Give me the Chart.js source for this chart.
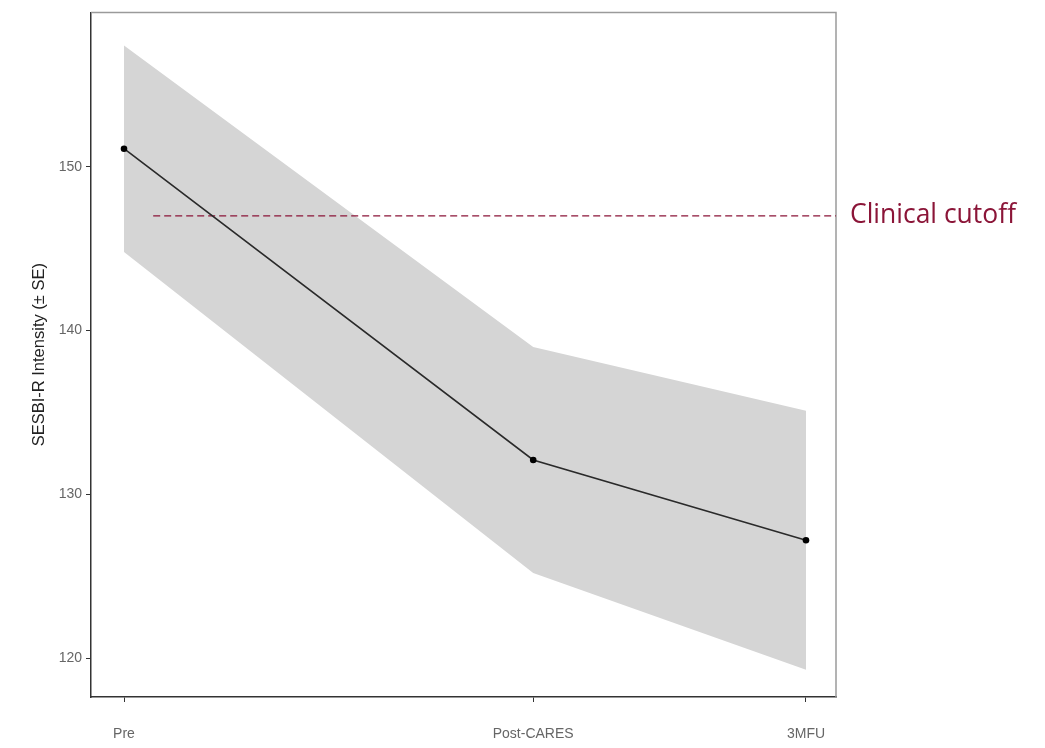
<!DOCTYPE html>
<html><head><meta charset="utf-8">
<script src="https://cdn.jsdelivr.net/npm/chart.js@4"></script>
<style>html,body{margin:0;padding:0;background:#fff}#wrap{width:1045px;height:748px}</style>
</head><body><div id="wrap"><canvas id="c" width="1045" height="748"></canvas></div>
<script>
const categories = ['Pre', 'Post-CARES', '3MFU'];
const timePos = [0, 1.5, 2.5];
const meanVals = [151.1, 132.1, 127.2];
const upperVals = [157.4, 139.0, 135.1];
const lowerVals = [144.8, 125.2, 119.3];
const yTicks = [120, 130, 140, 150];
const cutoffX = [0.107, 2.61];
const cutoffVal = 147;
const cutoffLabel = 'Clinical cutoff';
const yTitle = 'SESBI-R Intensity (± SE)';

const pts = (xs, ys) => xs.map((x, i) => ({x: x, y: ys[i]}));

const framePlugin = {
  id: 'frame',
  beforeDatasetsDraw(chart) {
    const a = chart.chartArea, ctx = chart.ctx;
    ctx.save();
    ctx.strokeStyle = '#9a9a9a';
    ctx.lineWidth = 1.5;
    ctx.beginPath();
    ctx.moveTo(a.left, a.top); ctx.lineTo(a.right, a.top); ctx.lineTo(a.right, a.bottom);
    ctx.stroke();
    ctx.restore();
  },
  afterDraw(chart) {
    const ctx = chart.ctx, a = chart.chartArea;
    const y = chart.scales.y.getPixelForValue(cutoffVal);
    ctx.save();
    let size = 22;
    ctx.font = size + 'px "Open Sans", "Noto Sans", sans-serif';
    const w = ctx.measureText(cutoffLabel).width;
    size = size * 166 / w;
    ctx.font = size + 'px "Open Sans", "Noto Sans", sans-serif';
    ctx.fillStyle = '#8b1538';
    ctx.textBaseline = 'middle';
    ctx.textAlign = 'left';
    ctx.fillText(cutoffLabel, a.right + 14, y);
    ctx.restore();
  }
};

new Chart(document.getElementById('c'), {
  type: 'line',
  data: {
    datasets: [
      {data: pts(timePos, upperVals), borderWidth: 0, pointRadius: 0, fill: '+1', backgroundColor: '#d5d5d5', tension: 0, order: 3},
      {data: pts(timePos, lowerVals), borderWidth: 0, pointRadius: 0, fill: false, tension: 0, order: 3},
      {data: pts(cutoffX, Array(cutoffX.length).fill(cutoffVal)), borderColor: '#8b1538', borderWidth: 1.3, borderDash: [7, 4], pointRadius: 0, fill: false, order: 2, clip: false},
      {data: pts(timePos, meanVals), borderColor: '#2a2a2a', borderWidth: 1.6, pointRadius: 3.3, pointBackgroundColor: '#000', pointBorderWidth: 0, fill: false, tension: 0, order: 1}
    ]
  },
  options: {
    responsive: false,
    animation: false,
    layout: {padding: {top: 10, right: 209, left: 30, bottom: 0}},
    plugins: {legend: {display: false}, tooltip: {enabled: false}},
    scales: {
      x: {
        type: 'linear', min: -0.121, max: 2.61,
        afterBuildTicks: s => { s.ticks = timePos.map(v => ({value: v})); },
        afterFit: s => { s.height = 51; },
        ticks: {callback: (v) => { const i = timePos.indexOf(v); return i >= 0 ? categories[i] : ''; }, color: '#666', font: {size: 14, family: 'Liberation Sans, Arial, sans-serif'}, padding: 24, maxRotation: 0},
        grid: {drawOnChartArea: false, drawTicks: true, tickLength: 5, color: '#333', lineWidth: 1},
        border: {display: true, color: '#333', width: 1.5}
      },
      y: {
        type: 'linear', min: 117.63, max: 159.42,
        afterBuildTicks: s => { s.ticks = yTicks.map(v => ({value: v})); },
        afterFit: s => { s.width = 61; },
        ticks: {color: '#666', font: {size: 14, family: 'Liberation Sans, Arial, sans-serif'}, padding: 4},
        grid: {drawOnChartArea: false, drawTicks: true, tickLength: 5, color: '#333', lineWidth: 1},
        border: {display: true, color: '#333', width: 1.5},
        title: {display: true, text: yTitle, color: '#222', font: {size: 16.5, family: 'Liberation Sans, Arial, sans-serif'}, padding: {top: 0, bottom: 0}}
      }
    }
  },
  plugins: [framePlugin]
});
</script>
</body></html>
